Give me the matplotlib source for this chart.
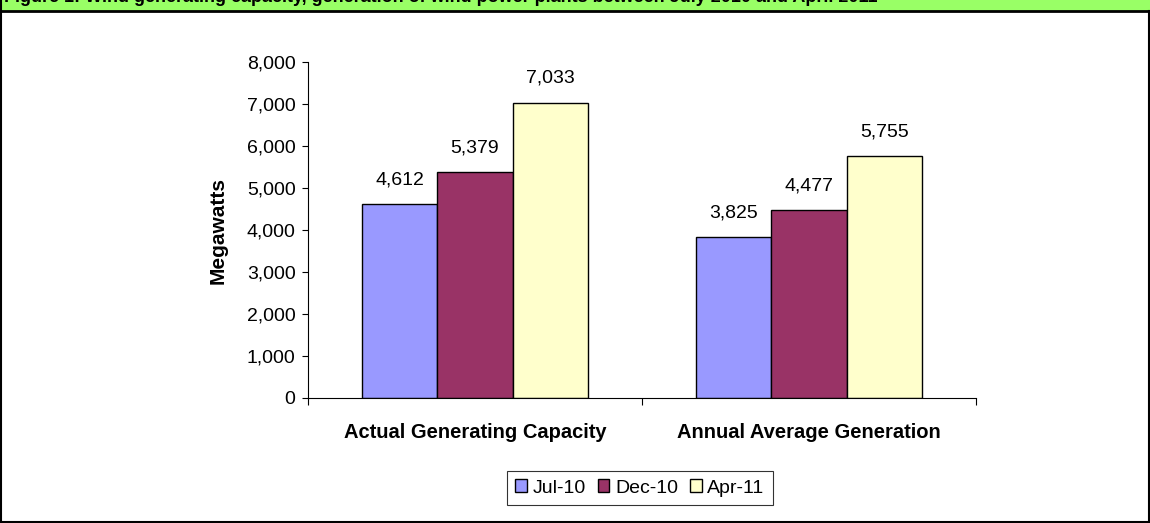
import numpy as np
import matplotlib.pyplot as plt
from matplotlib.patches import Rectangle
from matplotlib.lines import Line2D
from matplotlib.ticker import FuncFormatter

plt.rcParams['font.family'] = ['Liberation Sans', 'DejaVu Sans']

# ─── DATA ───────────────────────────────────────────────────────────────────
categories = ["Actual Generating Capacity", "Annual Average Generation"]
periods = ["Jul-10", "Dec-10", "Apr-11"]
jul10 = [4612, 3825]
dec10 = [5379, 4477]
apr11 = [7033, 5755]
colors = ["#9999FF", "#993366", "#FFFFCC"]

title = ("Figure 1: Wind generating capacity, generation of wind power plants "
         "between July 2010 and April 2011")

# ─── FIGURE ─────────────────────────────────────────────────────────────────
W, H = 1150, 523
fig = plt.figure(figsize=(W / 100, H / 100), dpi=100)

# green title band (title sits mostly above the top edge, as in the source)
fig.patches.append(Rectangle((0, 1 - 11 / H), 1, 11 / H, transform=fig.transFigure,
                             facecolor="#99FF66", edgecolor="none", zorder=0))
fig.text(4 / W, 1 - 1.5 / H, title, fontsize=13, fontweight="bold", va="baseline", ha="left")
# frame lines
fig.lines.append(Line2D([0, 1], [1 - 11 / H, 1 - 11 / H], transform=fig.transFigure,
                        color="black", lw=2))
fig.lines.append(Line2D([1 / W, 1 / W], [0, 1], transform=fig.transFigure, color="black", lw=1.5))
fig.lines.append(Line2D([1 - 1 / W, 1 - 1 / W], [0, 1 - 11 / H], transform=fig.transFigure,
                        color="black", lw=1.5))
fig.lines.append(Line2D([0, 1], [1 / H, 1 / H], transform=fig.transFigure, color="black", lw=1.5))

ax = fig.add_axes([308 / W, 1 - 398 / H, 668 / W, 336 / H])

x = np.arange(len(categories))
width = 0.225
series = [jul10, dec10, apr11]
for i, (vals, lab, c) in enumerate(zip(series, periods, colors)):
    bars = ax.bar(x + (i - 1) * width, vals, width, color=c, edgecolor="black",
                  linewidth=1.0, label=lab)
    for b, v in zip(bars, vals):
        ax.text(b.get_x() + b.get_width() / 2, v + 380, f"{v:,}", ha="center",
                va="bottom", fontsize=14)

ax.set_xlim(-0.5, 1.5)
ax.set_ylim(0, 8000)
ax.set_yticks(np.arange(0, 8001, 1000))
ax.yaxis.set_major_formatter(FuncFormatter(lambda v, p: f"{int(v):,}"))
ax.tick_params(axis="y", labelsize=14, length=4, direction="out", width=0.8, pad=5)

ax.set_xticks(x)
ax.set_xticklabels(categories, fontsize=14.5, fontweight="bold")
ax.set_xticks([-0.5, 0.5, 1.5], minor=True)
ax.tick_params(axis="x", which="major", length=0, pad=18)
ax.tick_params(axis="x", which="minor", length=5, direction="out", width=0.8)

ax.set_ylabel("Megawatts", fontsize=15, fontweight="bold", labelpad=14)

for s in ["top", "right"]:
    ax.spines[s].set_visible(False)
ax.spines["left"].set_linewidth(0.8)
ax.spines["bottom"].set_linewidth(0.8)

leg = fig.legend(loc="center", bbox_to_anchor=(640 / W, 1 - 488 / H), ncol=3,
                 fontsize=14, frameon=True, fancybox=False, edgecolor="black",
                 handlelength=0.6, handleheight=0.6, handletextpad=0.3,
                 columnspacing=0.6, borderpad=0.45)
leg.get_frame().set_linewidth(0.8)

fig.savefig("out.png", dpi=100)
